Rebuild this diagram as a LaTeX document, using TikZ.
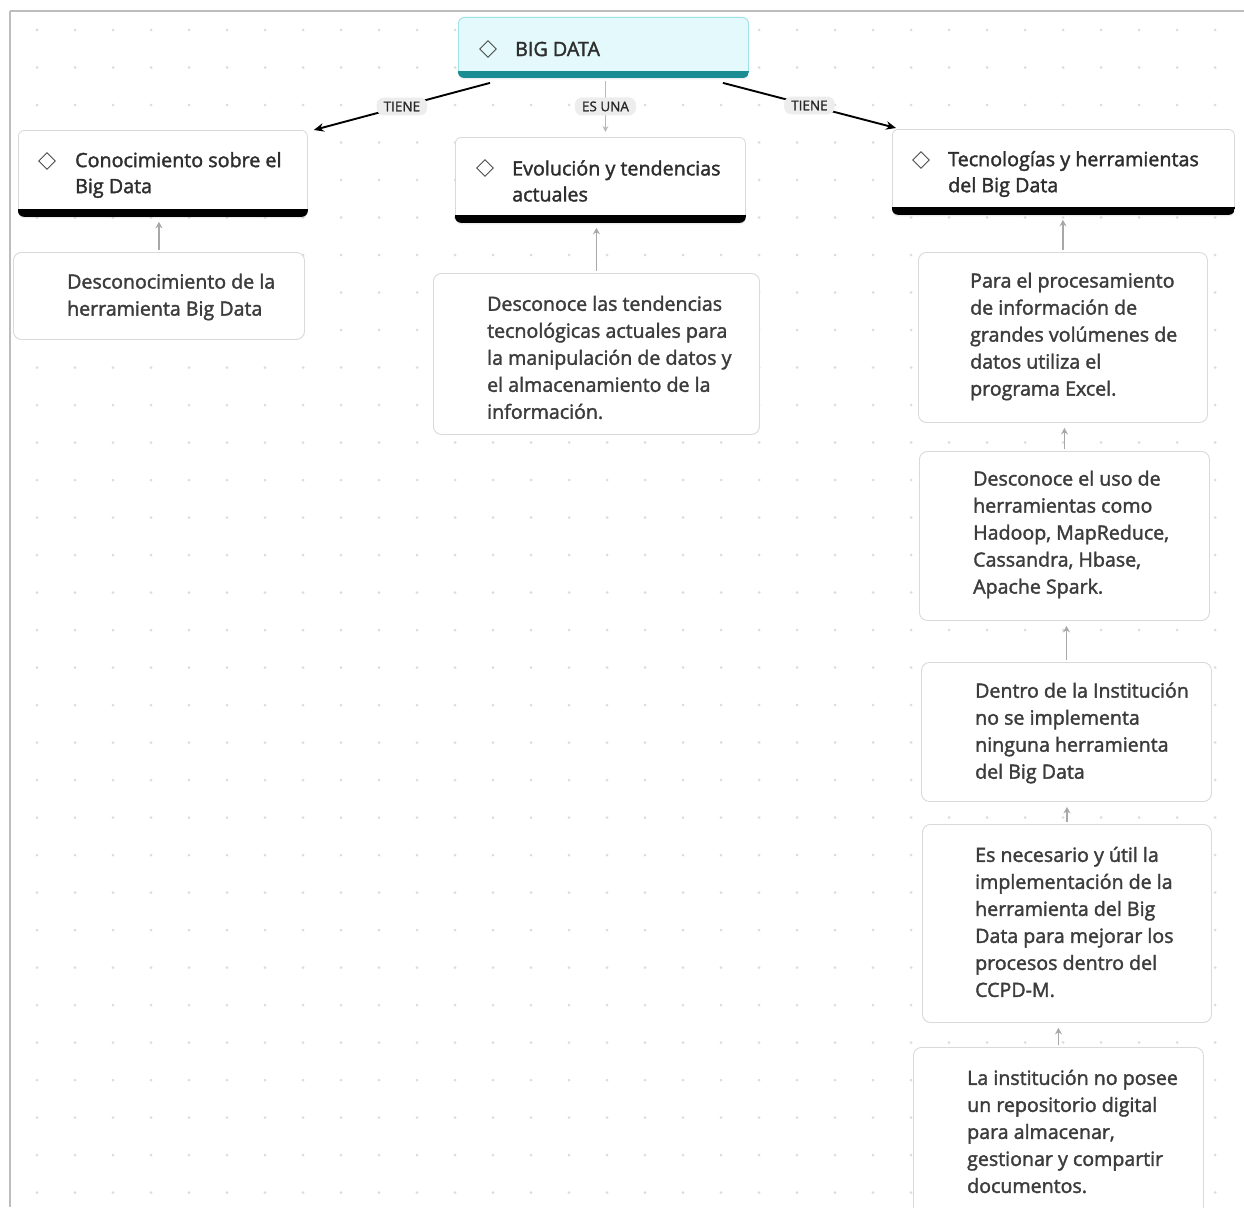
\documentclass[tikz,border=0pt]{standalone}
\usepackage{fontspec}
\setmainfont{Open Sans}[FakeBold=1.8]
\newfontfamily\lblfont{Open Sans}[FakeBold=1.2]
\usetikzlibrary{shapes.geometric,arrows.meta,shadows}
\definecolor{dotc}{HTML}{DCDCDC}
\definecolor{framec}{HTML}{BDBDBD}
\definecolor{boxline}{HTML}{D9D9D9}
\definecolor{txtc}{HTML}{3C3C3C}
\definecolor{hdrc}{HTML}{2E2E2E}
\definecolor{bigfill}{HTML}{E4F9FB}
\definecolor{bigline}{HTML}{9BE3E9}
\definecolor{bigbar}{HTML}{1A8C92}
\definecolor{lblfill}{HTML}{EDEDED}
\definecolor{grayarr}{HTML}{A8A8A8}
\begin{document}
\begin{tikzpicture}[x=1pt,y=-1pt,
  hbox/.style={draw=boxline, line width=0.8pt, fill=white, rounded corners=6pt, inner sep=0pt, anchor=north west,
    drop shadow={shadow xshift=0pt, shadow yshift=-2pt, opacity=0.15}},
  bbox/.style={draw=boxline, line width=0.9pt, fill=white, rounded corners=8pt, inner sep=0pt, anchor=north west},
  bigbox/.style={draw=bigline, line width=0.9pt, fill=bigfill, rounded corners=6pt, inner sep=0pt, anchor=north west,
    drop shadow={shadow xshift=0pt, shadow yshift=-2pt, opacity=0.12}},
  htxt/.style={align=left, inner sep=0pt, anchor=west, text=hdrc, font=\fontsize{19.7}{26}\selectfont},
  btxt/.style={align=left, inner sep=0pt, anchor=west, text=txtc, font=\fontsize{19.6}{27}\selectfont},
  dia/.style={diamond, draw=black!70, line width=0.9pt, aspect=1, minimum width=17pt, minimum height=17pt, inner sep=0pt},
  lbl/.style={fill=lblfill, rounded corners=7pt, inner xsep=7pt, inner ysep=4pt, text=black!85, font=\lblfont\fontsize{13.5}{15}\selectfont},
  tarrow/.style={draw=black, line width=1.9pt, -{Stealth[length=10pt,width=8.5pt]}},
  esarrow/.style={draw=grayarr!80, line width=1pt, -{Stealth[length=6pt,width=6pt]}},
  uparrow/.style={draw=grayarr, line width=1.6pt, -{Stealth[length=6.5pt,width=7pt]}, shorten >=5pt, shorten <=2pt}
]
\clip (0,0) rectangle (1244,1207);
\fill[white] (0,0) rectangle (1244,1207);
% dot grid
\foreach \i in {0,...,31} {
  \foreach \j in {0,...,31} {
    \fill[dotc] (37+38*\i, 30+37.5*\j) circle (1.5pt);
  }
}
% frame
\draw[framec, line width=1.4pt] (10,11) -- (1244,11);
\draw[framec, line width=2pt] (10,11) -- (10,1207);

% header boxes
\node[bigbox, minimum width=290pt, minimum height=60pt] (big) at (458,17) {};
\begin{scope}
  \clip[rounded corners=6pt] (big.north west) rectangle (big.south east);
  \fill[bigbar] ([yshift=7pt]big.south west) rectangle (big.south east);
\end{scope}
\node[hbox, minimum width=289pt, minimum height=86pt] (con) at (18,130) {};
\node[hbox, minimum width=290pt, minimum height=85pt] (evo) at (455,137) {};
\node[hbox, minimum width=342pt, minimum height=85pt] (tec) at (892,129) {};
\foreach \b in {con,evo,tec} {
  \begin{scope}
    \clip[rounded corners=6pt] (\b.north west) rectangle (\b.south east);
    \fill[black] ([yshift=7.5pt]\b.south west) rectangle (\b.south east);
  \end{scope}
}

% icons
\node[dia] (big-i) at (488,49) {};
\node[dia] (con-i) at (47,161) {};
\node[dia] (evo-i) at (485,168) {};
\node[dia] (tec-i) at (921,160) {};

% header texts
\node[htxt] (big-t) at (515,49) {BIG DATA};
\node[htxt] (con-t) at (75,175) {Conocimiento sobre el\\Big Data};
\node[htxt] (evo-t) at (512,181) {Evolución y tendencias\\actuales};
\node[htxt] (tec-t) at (948,174) {Tecnologías y herramientas\\del Big Data};

% body boxes
\node[bbox, minimum width=291pt, minimum height=87pt] (d1) at (13,252) {};
\node[bbox, minimum width=326pt, minimum height=161pt] (d2) at (433,273) {};
\node[bbox, minimum width=289pt, minimum height=170pt] (p1) at (918,252) {};
\node[bbox, minimum width=290pt, minimum height=169pt] (p2) at (919,451) {};
\node[bbox, minimum width=290pt, minimum height=139pt] (p3) at (921,662) {};
\node[bbox, minimum width=289pt, minimum height=198pt] (p4) at (922,824) {};
\node[bbox, minimum width=290pt, minimum height=168pt] (p5) at (913,1047) {};

\node[btxt] (d1-t) at (67,297) {Desconocimiento de la\\herramienta Big Data};
\node[btxt] (d2-t) at (487,357.5) {Desconoce las tendencias\\tecnológicas actuales para\\la manipulación de datos y\\el almacenamiento de la\\información.};
\node[btxt] (p1-t) at (970,336.5) {Para el procesamiento\\de información de\\grandes volúmenes de\\datos utiliza el\\programa Excel.};
\node[btxt] (p2-t) at (973,534.5) {Desconoce el uso de\\herramientas como\\Hadoop, MapReduce,\\Cassandra, Hbase,\\Apache Spark.};
\node[btxt] (p3-t) at (975,733) {Dentro de la Institución\\no se implementa\\ninguna herramienta\\del Big Data};
\node[btxt] (p4-t) at (975,922) {Es necesario y útil la\\implementación de la\\herramienta del Big\\Data para mejorar los\\procesos dentro del\\CCPD-M.};
\node[btxt] (p5-t) at (967,1131.5) {La institución no posee\\un repositorio digital\\para almacenar,\\gestionar y compartir\\documentos.};

% top connectors
\draw[esarrow] ([xshift=2pt,yshift=-3pt]big.south) -- node[lbl] (l2) {ES UNA} ([xshift=2pt,yshift=5pt]big.south |- evo.north);
\draw[tarrow] ([xshift=32pt,yshift=-5pt]big.south west) -- node[lbl] (l1) {TIENE} ([xshift=6pt]con.north east);
\draw[tarrow] ([xshift=-26pt,yshift=-5pt]big.south east) -- node[lbl] (l3) {TIENE} ([xshift=4pt,yshift=1pt]tec.north west);

% upward gray connectors
\draw[uparrow] (d1.north) -- (d1.north |- con.south);
\draw[uparrow] (d2.north) -- (d2.north |- evo.south);
\draw[uparrow] (p1.north) -- (p1.north |- tec.south);
\draw[uparrow] (p2.north) -- (p2.north |- p1.south);
\draw[uparrow] (p3.north) -- (p3.north |- p2.south);
\draw[uparrow] (p4.north) -- (p4.north |- p3.south);
\draw[uparrow] (p5.north) -- (p5.north |- p4.south);
\end{tikzpicture}
\end{document}
